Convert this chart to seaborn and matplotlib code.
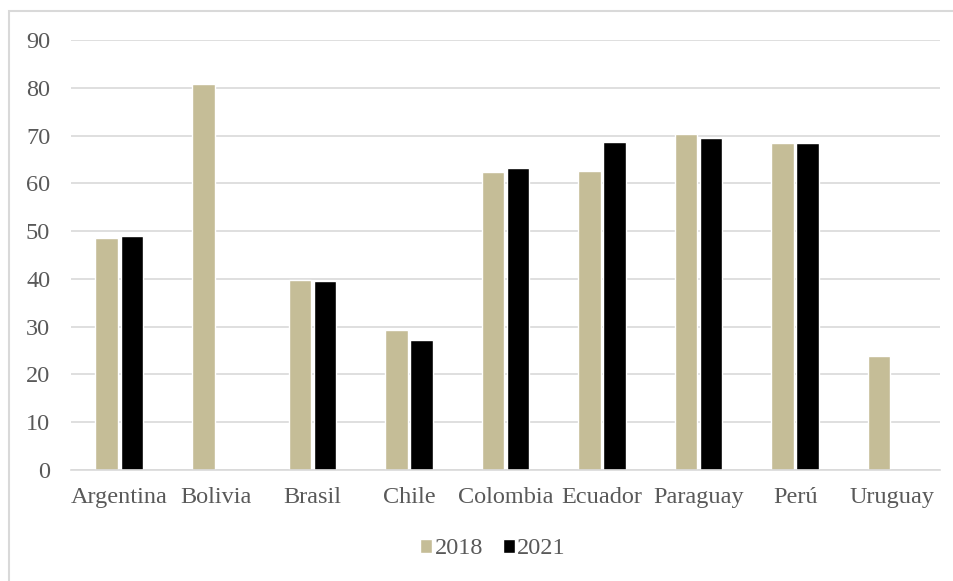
import matplotlib as mpl
import matplotlib.pyplot as plt
import numpy as np
import pandas as pd
import seaborn as sns

mpl.use('Agg')

# data
countries = ['Argentina', 'Bolivia', 'Brasil', 'Chile', 'Colombia',
             'Ecuador', 'Paraguay', 'Perú', 'Uruguay']
values_2018 = [48.5, 80.7, 39.8, 29.3, 62.4, 62.6, 70.3, 68.4, 23.9]
values_2021 = [49.0, np.nan, 39.6, 27.3, 63.3, 68.7, 69.4, 68.5, np.nan]
years = ['2018', '2021']

df = pd.DataFrame({
    'country': countries * 2,
    'year': [years[0]] * len(countries) + [years[1]] * len(countries),
    'value': values_2018 + values_2021,
})

sns.set_theme(style='white')
plt.rcParams['font.family'] = ['Liberation Serif', 'DejaVu Serif']

colors = ['#c5bd97', '#000000']
text_color = '#595959'
grid_color = '#d9d9d9'
font_size = 17.5

fig = plt.figure(figsize=(9.54, 5.81), dpi=100)
ax = fig.add_axes([71 / 954, 1 - 470 / 581, (940 - 71) / 954, (470 - 40) / 581])

sns.barplot(data=df, x='country', y='value', hue='year', palette=colors,
            width=0.52, gap=0.1, saturation=1, ax=ax, legend=True)

# axes styling
ax.set_ylim(0, 90)
ax.set_yticks(range(0, 91, 10))
ax.set_xlim(-0.5, len(countries) - 0.5)
ax.set_xlabel('')
ax.set_ylabel('')
ax.yaxis.grid(True, color=grid_color, linewidth=1.2)
ax.set_axisbelow(True)
for side in ['top', 'right', 'left']:
    ax.spines[side].set_visible(False)
ax.spines['bottom'].set_color(grid_color)
ax.spines['bottom'].set_linewidth(1.2)
ax.tick_params(axis='both', length=0, labelsize=font_size, colors=text_color)
ax.tick_params(axis='y', pad=15)
ax.tick_params(axis='x', pad=12)

# legend below the plot
handles, labels = ax.get_legend_handles_labels()
ax.legend_.remove()
fig.legend(handles, labels, loc='center', bbox_to_anchor=(493 / 954, 1 - 549 / 581),
           ncol=2, frameon=False, fontsize=font_size, handlelength=0.5, handleheight=0.5,
           handletextpad=0.1, columnspacing=0.8, labelcolor=text_color)

# outer frame (only left and top edges visible in the reference)
frame = mpl.patches.Rectangle((9 / 954, -0.1), 1.1, 1 - 11 / 581 + 0.1,
                              transform=fig.transFigure, fill=False,
                              edgecolor=grid_color, linewidth=1.5)
fig.patches.append(frame)

fig.savefig('out.png', dpi=100)
plt.close()
